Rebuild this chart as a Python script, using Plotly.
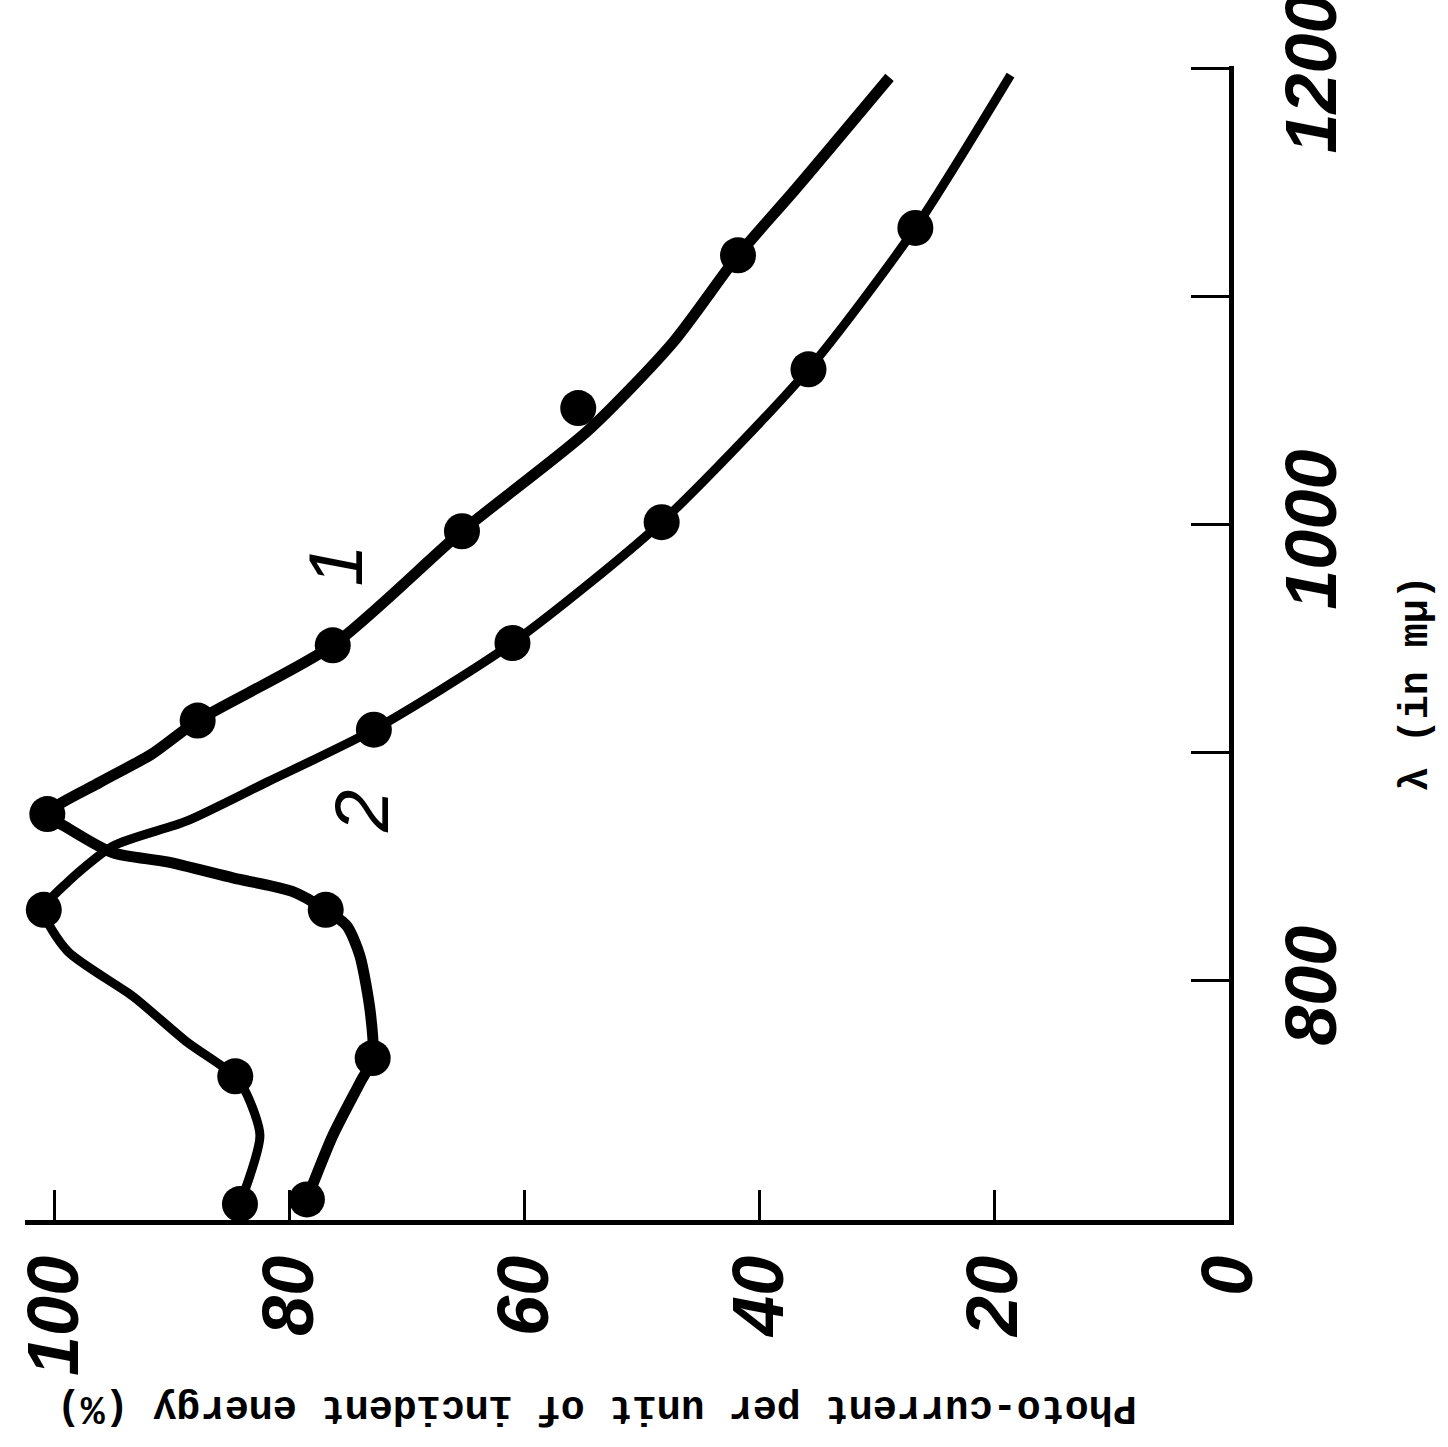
import plotly.graph_objects as go

# Curve 1 : measured points (photo-current %, wavelength m-mu)
c1_pct = [78.5, 72.9, 76.9, 100.6, 87.8, 76.3, 65.3, 55.4, 41.8]
c1_lam = [704, 766, 831, 873, 914, 947, 997, 1051, 1118]
# Curve 1 : drawn line
c1_line_pct = [78.5, 76.3, 74.0, 72.9, 73.1, 74.0, 75.1, 76.9, 79.7, 84.8, 90.4, 95.0, 98.9, 100.6,
               96.1, 91.8, 87.8, 76.3, 65.3, 54.6, 47.3, 41.8, 36.9, 28.9]
c1_line_lam = [704, 732, 755, 766, 786, 811, 824, 831, 839, 845, 852, 856, 867, 873,
               887, 899, 914, 947, 997, 1041, 1080, 1118, 1147, 1196]

# Curve 2 : measured points
c2_pct = [84.2, 84.6, 100.9, 72.8, 61.0, 48.3, 35.8, 26.7]
c2_lam = [702, 758, 831, 910, 948, 1001, 1068, 1130]
# Curve 2 : drawn line
c2_line_pct = [84.2, 82.5, 83.6, 84.6, 88.7, 93.3, 98.9, 100.9, 98.9, 95.0, 88.7, 81.9,
               72.8, 61.0, 48.3, 35.8, 26.7, 18.6]
c2_line_lam = [702, 732, 750, 758, 773, 793, 813, 831, 843, 859, 870, 887,
               910, 948, 1001, 1068, 1130, 1197]

pct_ticks = [0, 20, 40, 60, 80, 100]
pct_labels = ["0", "20", "40", "60", "80", "100"]
lam_ticks = [800, 900, 1000, 1100, 1200]
lam_labels = ["800", "", "1000", "", "1200"]

curve_labels = ["1", "2"]
curve_label_pct = [76.1, 73.8]
curve_label_lam = [982, 874]

x_title = "Photo-current per unit of incident energy (%)"
y_title = "λ (in mμ)"

tick_font = dict(family="Liberation Sans, Arial, sans-serif",
                 size=72, color="black", style="italic", weight="bold")
mono_font = dict(family="Liberation Mono, Courier New, monospace", size=40,
                 color="black", weight="bold")

fig = go.Figure()
fig.add_trace(go.Scatter(x=c1_line_pct, y=c1_line_lam, mode="lines",
                         line=dict(color="black", width=11, shape="spline", smoothing=0.7),
                         hoverinfo="skip", showlegend=False))
fig.add_trace(go.Scatter(x=c2_line_pct, y=c2_line_lam, mode="lines",
                         line=dict(color="black", width=9, shape="spline", smoothing=0.7),
                         hoverinfo="skip", showlegend=False))
fig.add_trace(go.Scatter(x=c1_pct, y=c1_lam, mode="markers",
                         marker=dict(color="black", size=36), showlegend=False))
fig.add_trace(go.Scatter(x=c2_pct, y=c2_lam, mode="markers",
                         marker=dict(color="black", size=36), showlegend=False))

for t, xp, yl in zip(curve_labels, curve_label_pct, curve_label_lam):
    fig.add_annotation(x=xp, y=yl, xref="x", yref="y", text=t, showarrow=False,
                       textangle=-90, font=dict(tick_font, size=76, weight="normal"))

fig.add_annotation(x=0.475, y=-0.163, xref="paper", yref="paper", text=x_title,
                   showarrow=False, textangle=180, font=mono_font,
                   xanchor="center", yanchor="middle")
fig.add_annotation(x=1.156, y=0.465, xref="paper", yref="paper", text=y_title,
                   showarrow=False, textangle=-90, font=mono_font,
                   xanchor="center", yanchor="middle")

fig.update_layout(
    width=1448, height=1447,
    margin=dict(l=25, r=219, t=66, b=227, autoexpand=False),
    paper_bgcolor="white", plot_bgcolor="white",
    xaxis=dict(range=[102.5, 0], tickvals=pct_ticks, ticktext=pct_labels,
               ticks="inside", ticklen=30, tickwidth=3, tickcolor="black",
               showline=True, linewidth=5, linecolor="black", automargin=False,
               showgrid=False, zeroline=False, tickangle=-90,
               tickfont=tick_font, ticklabelstandoff=2),
    yaxis=dict(range=[695, 1201], side="right", tickvals=lam_ticks, ticktext=lam_labels,
               ticks="inside", ticklen=38, tickwidth=3, tickcolor="black",
               showline=True, linewidth=5, linecolor="black", automargin=False,
               showgrid=False, zeroline=False, tickangle=-90,
               tickfont=tick_font, ticklabelstandoff=16, ticklabelshift=16,
               ticklabeloverflow="allow"),
)

fig.write_html("out.html")
